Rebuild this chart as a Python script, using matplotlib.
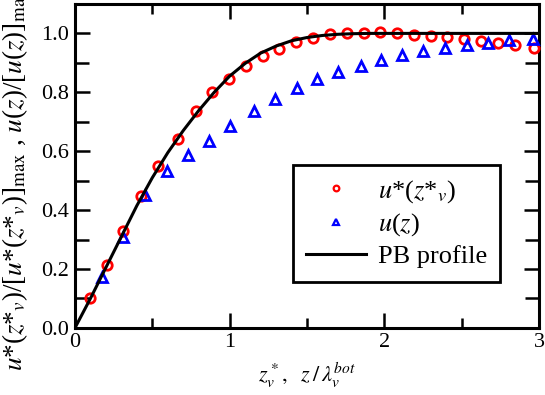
import matplotlib
matplotlib.use("Agg")
import matplotlib.pyplot as plt
from matplotlib.ticker import MultipleLocator

plt.rcParams['font.family'] = ['Liberation Serif', 'DejaVu Serif']
plt.rcParams['mathtext.fontset'] = 'stix'

# u*(z*_v) normalised, red circles
circ_x = [0.097, 0.209, 0.309, 0.425, 0.538, 0.667, 0.781, 0.883, 0.998, 1.105,
          1.215, 1.322, 1.432, 1.54, 1.65, 1.76, 1.87, 1.975, 2.083, 2.19, 2.3,
          2.408, 2.518, 2.626, 2.734, 2.844, 2.965]
circ_y = [0.100, 0.214, 0.330, 0.447, 0.548, 0.643, 0.736, 0.800, 0.846, 0.890,
          0.922, 0.948, 0.971, 0.983, 0.998, 1.000, 1.003, 1.004, 1.001, 0.995,
          0.991, 0.987, 0.982, 0.974, 0.968, 0.959, 0.951]

# u(z) normalised, blue triangles
tri_x = [0.173, 0.312, 0.453, 0.595, 0.731, 0.869, 1.003, 1.155, 1.293, 1.434,
         1.566, 1.70, 1.849, 1.979, 2.117, 2.253, 2.393, 2.534, 2.673, 2.809, 2.96]
tri_y = [0.174, 0.308, 0.452, 0.534, 0.587, 0.634, 0.685, 0.736, 0.778, 0.813,
         0.844, 0.870, 0.890, 0.910, 0.925, 0.940, 0.951, 0.961, 0.968, 0.976, 0.982]

# PB profile
pb_x = [0, 0.1, 0.2, 0.3, 0.4, 0.5, 0.6, 0.7, 0.8, 0.9, 1.0, 1.1, 1.2, 1.3, 1.4,
        1.5, 1.6, 1.7, 1.8, 1.9, 2.0, 2.5, 3.0]
pb_y = [0, 0.100, 0.205, 0.310, 0.415, 0.510, 0.595, 0.670, 0.738, 0.800, 0.855,
        0.898, 0.933, 0.957, 0.975, 0.986, 0.993, 0.997, 0.999, 1.0, 1.0, 1.0, 1.0]

fig = plt.figure(figsize=(5.45, 3.95), dpi=100)
ax = fig.add_axes([0.1376, 0.17, 0.8514, 0.82])

ax.plot(circ_x, circ_y, 'o', ms=6.8, mfc='none', mec='#ff0000', mew=2,
        label=r'$u$*($z$*$_{v}$)', clip_on=False, zorder=3)
ax.plot(tri_x, tri_y, '^', ms=6.8, mfc='none', mec='#0000ff', mew=2,
        label=r'$u$($z$)', clip_on=False, zorder=3)
ax.plot(pb_x, pb_y, '-', color='black', lw=2.2, label='PB profile', zorder=4)

ax.set_xlim(0, 3)
ax.set_ylim(0, 1.1)
ax.xaxis.set_major_locator(MultipleLocator(1))
ax.xaxis.set_minor_locator(MultipleLocator(0.5))
ax.yaxis.set_major_locator(MultipleLocator(0.2))
ax.yaxis.set_minor_locator(MultipleLocator(0.1))
ax.set_yticklabels(['%.1f' % t for t in ax.get_yticks()])

ax.tick_params(which='both', direction='in', top=True, right=True, width=1.8,
               labelsize=16, pad=4)
ax.tick_params(which='major', length=10.5)
ax.tick_params(which='minor', length=7.5)
ax.tick_params(axis='y', which='minor', length=10)
for s in ax.spines.values():
    s.set_linewidth(2.2)

ax.set_xlabel(r'$z^*_{v},\ \ z\,/\,\lambda_{v}^{bot}$', fontsize=16, labelpad=6)
ax.set_ylabel(r'$u$*($z$*$_{v}$)/[$u$*($z$*$_{v}$)]$_{\rm max}$ , '
              r'$u$($z$)/[$u$($z$)]$_{\rm max}$', fontsize=19.5)
ax.yaxis.set_label_coords(-0.098, 0.46)

leg = ax.legend(loc='lower right', bbox_to_anchor=(0.916, 0.143), fontsize=19,
                frameon=True, fancybox=False, edgecolor='black', framealpha=1,
                borderaxespad=0, handlelength=2.27, borderpad=0.5,
                labelspacing=0.25, handletextpad=0.45, markerscale=0.6)
leg.get_frame().set_linewidth(2)
for h in leg.legend_handles[:2]:
    h.set_markeredgewidth(1.6)

fig.savefig('out.png', dpi=100)
